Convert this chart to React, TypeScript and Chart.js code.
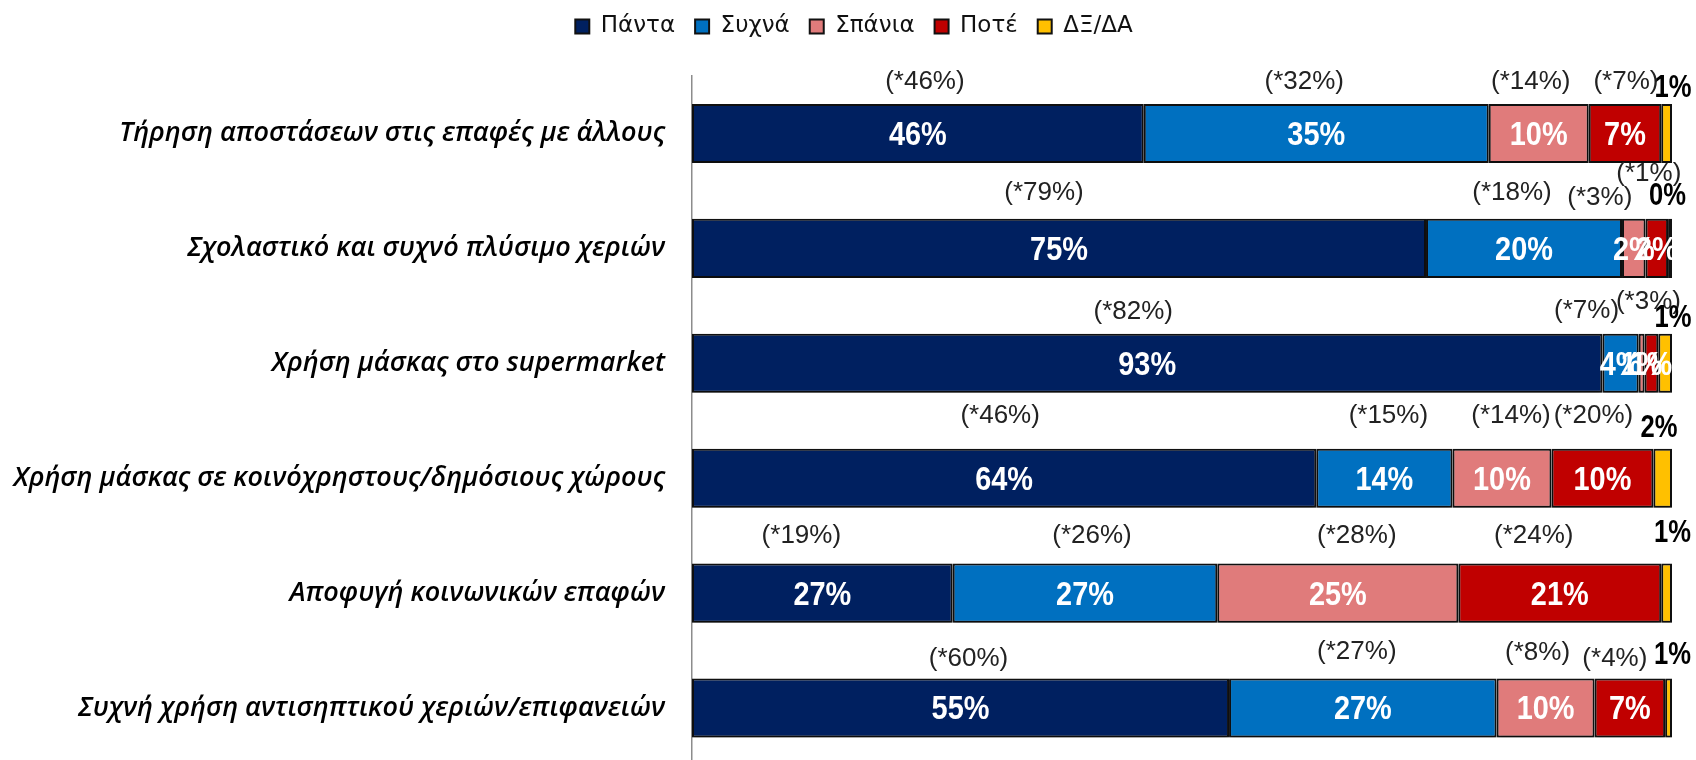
import React, { useEffect, useRef } from "react";
import { Chart, registerables } from "chart.js";

Chart.register(...registerables);

// ---- data ----
const categories = [
  "Τήρηση αποστάσεων στις επαφές με άλλους",
  "Σχολαστικό και συχνό πλύσιμο χεριών",
  "Χρήση μάσκας στο supermarket",
  "Χρήση μάσκας σε κοινόχρηστους/δημόσιους χώρους",
  "Αποφυγή κοινωνικών επαφών",
  "Συχνή χρήση αντισηπτικού χεριών/επιφανειών",
];
const seriesNames = ["Πάντα", "Συχνά", "Σπάνια", "Ποτέ", "ΔΞ/ΔΑ"];

const panta = [46.1, 74.9, 92.9, 63.7, 26.6, 54.8];
const sychna = [35.2, 20.0, 3.7, 13.9, 27.0, 27.3];
const spania = [10.2, 2.4, 0.6, 10.1, 24.6, 10.0];
const pote = [7.4, 2.3, 1.4, 10.4, 20.7, 7.2];
const dxda = [1.1, 0.4, 1.4, 1.9, 1.1, 0.7];

// previous-wave values shown as (*xx%)
const prevPanta = [46, 79, 82, 46, 19, 60];
const prevSychna = [32, 18, 7, 15, 26, 27];
const prevSpania = [14, 3, null, 14, 28, 8];
const prevPote = [7, 1, 3, 20, 24, 4];

// ---- styling ----
const colors = ["#002060", "#0070C0", "#E07B7B", "#C00000", "#FFC000"];

// label nudges (px) [row][series]
const prevDx = [
  [7, -12, -8, 1],
  [-15, -12, -34, -8],
  [-14, -34, 0, -3],
  [-4, 4, 9, -9],
  [-21, 7, 19, -26],
  [8, -6, -8, -15],
];
const prevDy = [
  [-22.5, -22.5, -22.5, -22.5],
  [-26, -26, -21.5, -45],
  [-22, -22.5, -22, -31.5],
  [-33, -33, -33, -33],
  [-28, -28, -28, -28],
  [-20, -27, -26, -20],
];
const endDx = [1, -4.5, 1, -13, 0.5, 0.5];
const endDy = [-16, -23, -15.5, -20.5, -30, -23];

const innerFont = 'bold 34px "Liberation Sans", Arial, sans-serif';
const prevFont = '26px "Liberation Sans", Arial, sans-serif';
const endFont = 'bold 32px "Liberation Sans", Arial, sans-serif';
const legendShift = 18;

function squeezedText(ctx: CanvasRenderingContext2D, text: string, x: number, y: number, sx: number) {
  ctx.save();
  ctx.translate(x, y);
  ctx.scale(sx, 1);
  ctx.fillText(text, 0, 0);
  ctx.restore();
}

const labelsPlugin = {
  id: "barLabels",
  afterLayout(chart: any) {
    if (chart.legend) {
      chart.legend.left += legendShift;
      chart.legend.right += legendShift;
    }
  },
  beforeDatasetsDraw(chart: any) {
    const ctx = chart.ctx;
    ctx.save();
    ctx.shadowColor = "rgba(0,0,0,0.3)";
    ctx.shadowBlur = 4;
    ctx.shadowOffsetX = 0;
    ctx.shadowOffsetY = 3;
  },
  afterDatasetsDraw(chart: any) {
    const ctx = chart.ctx;
    ctx.restore();
    ctx.save();
    const prev = [prevPanta, prevSychna, prevSpania, prevPote];
    ctx.textAlign = "center";
    ctx.textBaseline = "middle";
    chart.data.datasets.forEach((ds: any, di: number) => {
      const meta = chart.getDatasetMeta(di);
      meta.data.forEach((bar: any, i: number) => {
        const { x, y, base, height } = bar.getProps(["x", "y", "base", "height"], true);
        const v = ds.data[i] as number;
        const top = y - height / 2;
        const cx = (x + base) / 2;
        if (di < 4) {
          ctx.font = innerFont;
          ctx.fillStyle = "#ffffff";
          squeezedText(ctx, `${Math.round(v)}%`, cx, y + 2, 0.85);
          const pv = prev[di][i];
          if (pv !== null && pv !== undefined) {
            ctx.font = prevFont;
            ctx.fillStyle = "#222222";
            ctx.fillText(`(*${pv}%)`, cx + prevDx[i][di], top + prevDy[i][di]);
          }
        } else {
          ctx.font = endFont;
          ctx.fillStyle = "#000000";
          squeezedText(ctx, `${Math.round(v)}%`, x + endDx[i], top + endDy[i], 0.8);
        }
      });
    });
    ctx.restore();
  },
};

export default function App() {
  const ref = useRef<HTMLCanvasElement | null>(null);

  useEffect(() => {
    if (!ref.current) return;
    const series = [panta, sychna, spania, pote, dxda];
    const chart = new Chart(ref.current, {
      type: "bar",
      data: {
        labels: categories,
        datasets: series.map((d, k) => ({
          label: seriesNames[k],
          data: d,
          backgroundColor: colors[k],
          borderColor: "#111111",
          borderWidth: 2,
          borderSkipped: false,
          barPercentage: 1,
          categoryPercentage: 0.514,
        })),
      },
      options: {
        indexAxis: "y",
        responsive: false,
        animation: false,
        devicePixelRatio: 1,
        layout: { padding: { top: 2, right: 24, bottom: 4.5, left: 0 } },
        plugins: {
          legend: {
            display: true,
            position: "top",
            labels: {
              font: { family: '"DejaVu Sans", sans-serif', size: 23 },
              color: "#111111",
              boxWidth: 14,
              boxHeight: 14,
              padding: 20,
            },
          },
          title: {
            display: true,
            text: "",
            position: "top",
            weight: 500,
            font: { size: 10, lineHeight: 1 },
            padding: { top: 0, bottom: 18 },
          },
          tooltip: { enabled: false },
        },
        scales: {
          x: {
            stacked: true,
            min: 0,
            max: 100,
            display: false,
          },
          y: {
            stacked: true,
            grid: { display: false, drawTicks: false },
            border: { display: true, color: "#8c8c8c", width: 1.5 },
            ticks: {
              padding: 27,
              color: "#000000",
              font: { family: '"Open Sans", sans-serif', size: 27, style: "italic", weight: "600" },
            },
            afterFit: (scale: any) => {
              scale.width = 692;
              scale.paddingTop = 0;
              scale.paddingBottom = 0;
            },
          },
        },
      },
      plugins: [labelsPlugin],
    });
    return () => chart.destroy();
  }, []);

  return (
    <div
      style={{
        position: "fixed",
        left: 0,
        top: 0,
        width: 1696,
        height: 760,
        overflow: "hidden",
        background: "#ffffff",
      }}
    >
      <canvas
        ref={ref}
        width={1696}
        height={777}
        style={{ position: "absolute", left: 0, top: -7, display: "block" }}
      />
    </div>
  );
}
